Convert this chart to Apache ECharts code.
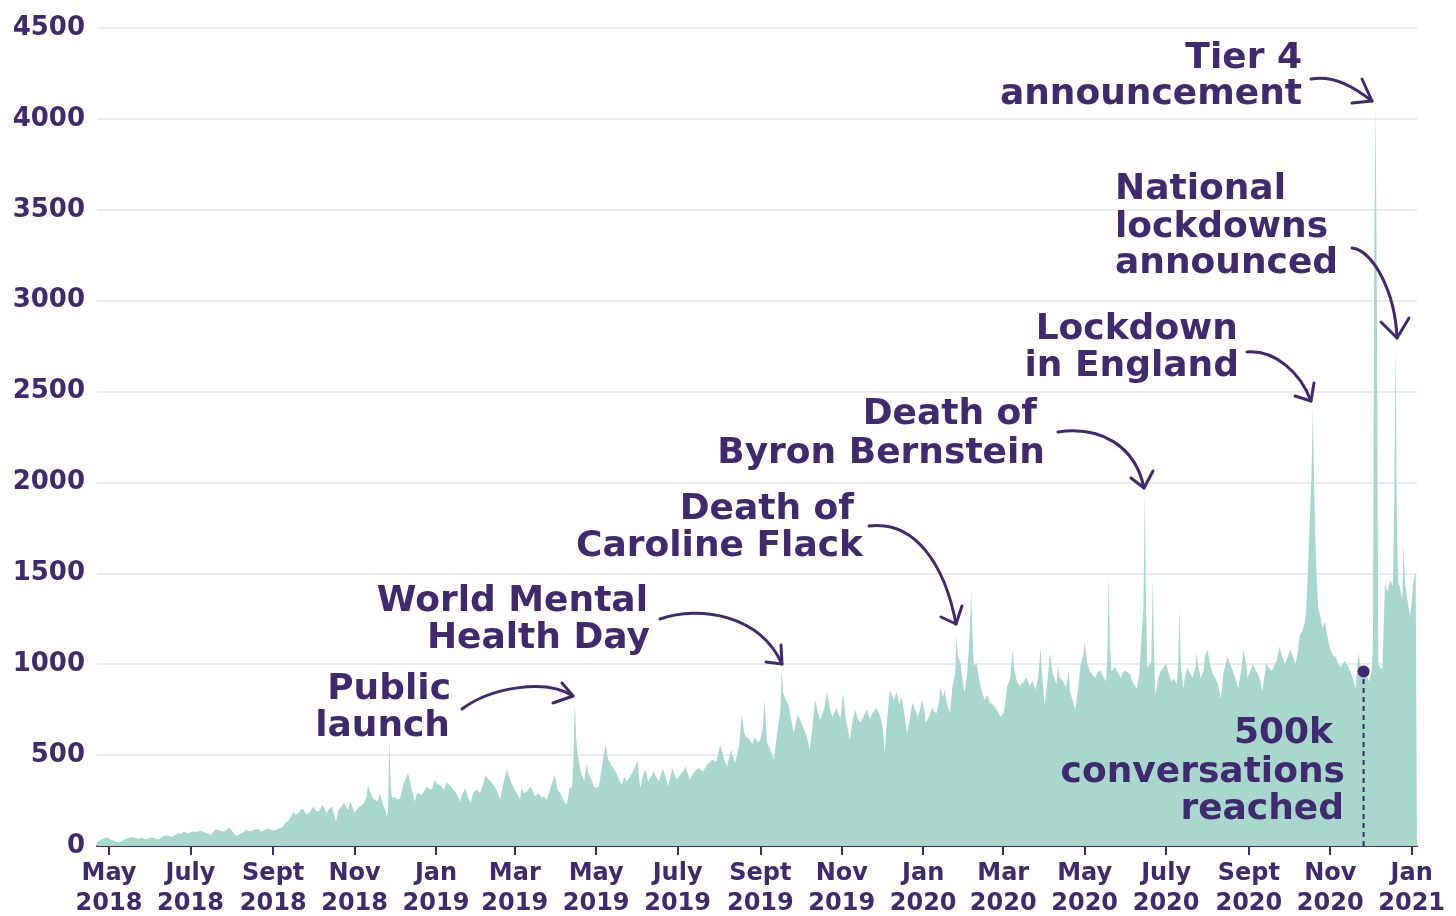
<!DOCTYPE html>
<html><head><meta charset="utf-8">
<script src="https://cdn.jsdelivr.net/npm/echarts@6/dist/echarts.min.js"></script>
<style>html,body{margin:0;padding:0;background:#fff}#c{width:1456px;height:916px}</style>
</head><body><div id="c"></div>
<script>
// x = days since 1 May 2018, y = conversations per day
const tickDays = [0,61,123,184,245,304,365,426,488,549,610,670,731,792,854,915,976];
const tickLabels = ['May\n2018','July\n2018','Sept\n2018','Nov\n2018','Jan\n2019','Mar\n2019','May\n2019','July\n2019','Sept\n2019','Nov\n2019','Jan\n2020','Mar\n2020','May\n2020','July\n2020','Sept\n2020','Nov\n2020','Jan\n2021'];

const daily2018 = [[-9,24],[-5,37],[-2,48],[2,33],[5,26],[7,18],[10,30],[12,37],[15,44],[17,48],[20,42],[22,40],[25,45],[27,37],[30,42],[33,48],[35,41],[37,37],[40,50],[42,59],[45,55],[47,51],[50,62],[52,73],[54,66],[56,79],[58,72],[60,70],[62,80],[63,88],[66,78],[68,84],[70,80],[72,73],[74,68],[76,61],[78,75],[80,92],[83,85],[85,79],[88,88],[90,103],[92,85],[95,55],[97,62],[100,73],[103,92],[105,80],[107,84],[110,95],[112,92],[114,80],[116,84],[118,95],[120,92],[123,85],[125,88],[128,97],[130,105],[132,125],[135,143],[137,170],[138,189],[140,172],[142,180],[144,205],[146,198],[148,175],[150,180],[153,217],[155,195],[157,189],[160,226],[162,200],[163,180],[165,205],[167,217],[170,134],[172,198],[174,215],[176,239],[178,210],[179,198],[181,244],[184,180],[186,205],[188,217],[191,235],[193,270],[194,336],[196,290],[197,272],[199,255],[201,244],[203,290],[205,235],[207,200],[208,162],[209,190],[210,594],[211,330],[212,263],[214,270],[216,254],[218,263],[221,346],[224,401],[226,340],[227,309],[229,244],[231,294],[234,281],[236,300],[238,327],[240,315],[242,309],[244,364]];

const daily2019 = [[246,340],[248,336],[251,310],[253,349],[256,330],[258,309],[261,280],[263,244],[265,290],[267,318],[269,270],[271,235],[273,299],[276,310],[278,290],[280,330],[282,386],[284,370],[286,355],[289,327],[291,300],[293,257],[295,327],[298,423],[301,355],[304,309],[306,285],[308,254],[309,318],[311,290],[313,299],[316,327],[319,272],[322,290],[324,265],[326,272],[328,254],[331,324],[334,392],[336,309],[338,290],[341,244],[343,226],[345,318],[347,327],[348,480],[349,796],[350,600],[351,511],[353,419],[356,355],[358,456],[359,401],[362,355],[364,318],[367,327],[369,419],[372,557],[374,474],[377,437],[380,401],[382,370],[384,336],[386,380],[388,355],[390,380],[392,401],[394,430],[396,470],[398,318],[400,390],[402,419],[404,355],[406,380],[408,410],[410,380],[412,355],[415,428],[417,380],[419,327],[422,428],[425,364],[428,392],[430,410],[432,437],[435,364],[438,401],[440,420],[442,428],[445,410],[448,447],[450,460],[452,474],[455,465],[458,557],[461,474],[463,437],[466,529],[469,456],[472,548],[474,722],[476,620],[477,603],[480,585],[482,560],[484,603],[486,570],[488,585],[490,650],[491,805],[493,570],[495,540],[498,475],[501,640],[503,750],[504,970],[505,840],[507,805],[509,780],[511,700],[513,620],[516,720],[518,690],[520,655],[523,600],[525,530],[527,650],[529,805],[531,740],[533,695],[536,760],[538,850],[540,760],[542,710],[545,760],[548,700],[550,845],[552,700],[555,585],[557,680],[559,750],[561,700],[563,680],[566,720],[568,750],[570,700],[572,730],[575,760],[578,710],[580,640],[581,510],[583,700],[585,860],[588,800],[590,850],[592,780],[594,820],[596,720],[598,620],[600,700],[602,790],[604,750],[606,710],[608,760],[609,805]];

const daily2020 = [[611,740],[612,680],[615,720],[617,765],[618,740],[620,730],[622,800],[623,870],[625,820],[626,860],[628,780],[630,730],[632,880],[634,950],[635,1165],[636,1040],[638,1010],[639,935],[641,845],[643,950],[644,1065],[645,1200],[646,1400],[647,1150],[648,990],[650,1010],[652,915],[654,850],[656,805],[658,830],[660,790],[662,780],[664,765],[666,740],[668,710],[670,730],[671,765],[673,880],[675,915],[676,990],[677,1080],[678,980],[680,915],[682,880],[685,900],[687,930],[690,880],[692,910],[694,860],[696,920],[697,1000],[698,1090],[699,950],[701,772],[703,900],[705,1060],[707,950],[710,888],[711,1000],[712,930],[715,905],[717,870],[719,960],[720,848],[722,800],[724,751],[726,860],[728,1002],[730,1050],[731,1120],[733,1000],[735,963],[737,940],[739,925],[741,960],[743,963],[745,930],[747,905],[748,1050],[749,1485],[750,1100],[751,963],[754,983],[756,950],[758,925],[760,960],[762,963],[765,944],[767,900],[770,867],[772,950],[773,1079],[775,1300],[776,1939],[777,1300],[778,983],[780,1000],[781,1021],[782,1485],[783,1050],[784,828],[786,920],[788,963],[790,980],[792,1002],[794,950],[796,905],[798,920],[800,888],[801,1000],[802,1301],[803,1000],[805,867],[806,930],[808,983],[810,950],[812,925],[814,980],[815,1060],[816,990],[818,925],[820,960],[821,1040],[823,1079],[825,1000],[827,944],[829,920],[831,888],[833,809],[835,950],[838,1041],[840,1000],[842,963],[844,920],[846,867],[848,950],[850,1079],[852,1000],[853,925],[855,960],[857,1002],[859,970],[861,944],[863,900],[864,848],[866,950],[867,1002],[869,980],[871,963],[873,990],[875,1021],[877,1098],[879,1040],[881,1002],[883,1040],[885,1079],[887,1040],[889,1002],[891,1080],[892,1156],[894,1180],[896,1234],[897,1300],[899,1659],[901,2050],[902,2412],[903,1950],[904,1659],[905,1450],[906,1311],[908,1250],[909,1196],[911,1234],[913,1150],[915,1079],[917,1050],[919,1041],[921,1000],[923,983],[926,1021],[928,990],[930,963],[932,920],[934,867],[936,1060],[938,980],[940,925],[942,950],[944,905],[946,963],[947,1100],[948,3300],[949,4080],[950,2900],[951,1000],[952,985],[954,970],[955,1200],[956,1440],[958,1400],[960,1460],[962,1430],[963,1900],[964,2760],[965,1700],[966,1450],[967,1430],[969,1355],[970,1660],[971,1450],[972,1395],[974,1300],[975,1265]];

const daily2021 = [[977,1430],[978,1480],[979,1505],[980,1505]];

const milestoneDay = 940;
const milestoneValue = 960;

const FONT = '"DejaVu Sans", sans-serif';
const PURPLE = '#402a6f';
const MINT = '#a8d8cc';

const allData = daily2018.concat(daily2019, daily2020, daily2021);

const notes = [
  ['Tier 4', 1302, 58.5, 'right'],
  ['announcement', 1302, 95, 'right'],
  ['National', 1115, 189.5, 'left'],
  ['lockdowns', 1115, 227.5, 'left'],
  ['announced', 1115, 264, 'left'],
  ['Lockdown', 1238, 329.5, 'right'],
  ['in England', 1239, 366.5, 'right'],
  ['Death of', 1037, 415, 'right'],
  ['Byron Bernstein', 1045, 453.5, 'right'],
  ['Death of', 854, 509.5, 'right'],
  ['Caroline Flack', 863, 546.5, 'right'],
  ['World Mental', 648, 601.5, 'right'],
  ['Health Day', 650, 638.5, 'right'],
  ['Public', 451, 689.5, 'right'],
  ['launch', 450, 726.5, 'right'],
  ['500k', 1333, 734, 'right'],
  ['conversations', 1345, 772.5, 'right'],
  ['reached', 1344, 810, 'right']
];

// arrows: [x1,y1,cpx1,cpy1,cpx2,cpy2,x2,y2, armA, armB]
const arrows = [
  [462,709, 490,688, 545,678, 573,696, [562,683],[553,703]],
  [660,619, 700,605, 760,615, 782,664, [781,645],[766,662]],
  [869,526, 915,520, 945,565, 956,624, [962,606],[941,617]],
  [1058,432, 1100,426, 1135,445, 1144,488, [1131,478],[1153,471]],
  [1247,352, 1275,350, 1300,372, 1311,401, [1295,396],[1314,383]],
  [1352,248, 1372,250, 1395,290, 1397,338, [1381,322],[1409,318]],
  [1311,79, 1335,75, 1355,88, 1372,101, [1362,79],[1352,103]]
];

const graphics = [];
notes.forEach(n => graphics.push({
  type: 'text', z: 100, silent: true,
  style: { text: n[0], x: n[1], y: n[2], align: n[3], verticalAlign: 'middle',
    font: 'bold 36px ' + FONT, fill: PURPLE }
}));
arrows.forEach(a => {
  graphics.push({ type: 'bezierCurve', z: 100, silent: true,
    shape: { x1: a[0], y1: a[1], cpx1: a[2], cpy1: a[3], cpx2: a[4], cpy2: a[5], x2: a[6], y2: a[7] },
    style: { stroke: PURPLE, lineWidth: 3, fill: null, lineCap: 'round' } });
  graphics.push({ type: 'polyline', z: 100, silent: true,
    shape: { points: [a[8], [a[6], a[7]], a[9]] },
    style: { stroke: PURPLE, lineWidth: 3, fill: null, lineCap: 'round', lineJoin: 'round' } });
});

const chart = echarts.init(document.getElementById('c'), null, { renderer: 'canvas' });
chart.setOption({
  animation: false,
  backgroundColor: '#ffffff',
  grid: { left: 97, right: 39, top: 28, bottom: 70, containLabel: false, outerBoundsMode: 'none' },
  xAxis: {
    type: 'value', min: -9, max: 980,
    axisLine: { show: true, onZero: true, lineStyle: { color: PURPLE, width: 2 } },
    axisTick: { show: true, customValues: tickDays, length: 9, lineStyle: { color: PURPLE, width: 2 } },
    axisLabel: { customValues: tickDays, formatter: v => tickLabels[tickDays.indexOf(v)] || '',
      color: PURPLE, fontFamily: FONT, fontSize: 24, fontWeight: 'bold', lineHeight: 30, margin: 13 },
    splitLine: { show: false }
  },
  yAxis: {
    type: 'value', min: 0, max: 4500, interval: 500,
    axisLine: { show: false }, axisTick: { show: false },
    axisLabel: { formatter: v => String(v), color: PURPLE, fontFamily: FONT, fontSize: 26, fontWeight: 'bold', margin: 12 },
    splitLine: { lineStyle: { color: '#ecebf2', width: 2 } }
  },
  series: [
    { type: 'line', data: allData, symbol: 'none', silent: true,
      lineStyle: { width: 0 }, areaStyle: { color: MINT, opacity: 1 }, z: 2 },
    { type: 'line', data: [[milestoneDay, 0], [milestoneDay, milestoneValue]], symbol: 'none', silent: true,
      lineStyle: { color: PURPLE, width: 2, type: [5, 4] }, z: 4 },
    { type: 'scatter', data: [[milestoneDay, milestoneValue]], symbolSize: 12, silent: true,
      itemStyle: { color: PURPLE, opacity: 1 }, z: 5 }
  ],
  graphic: graphics
});
</script>
</body></html>
